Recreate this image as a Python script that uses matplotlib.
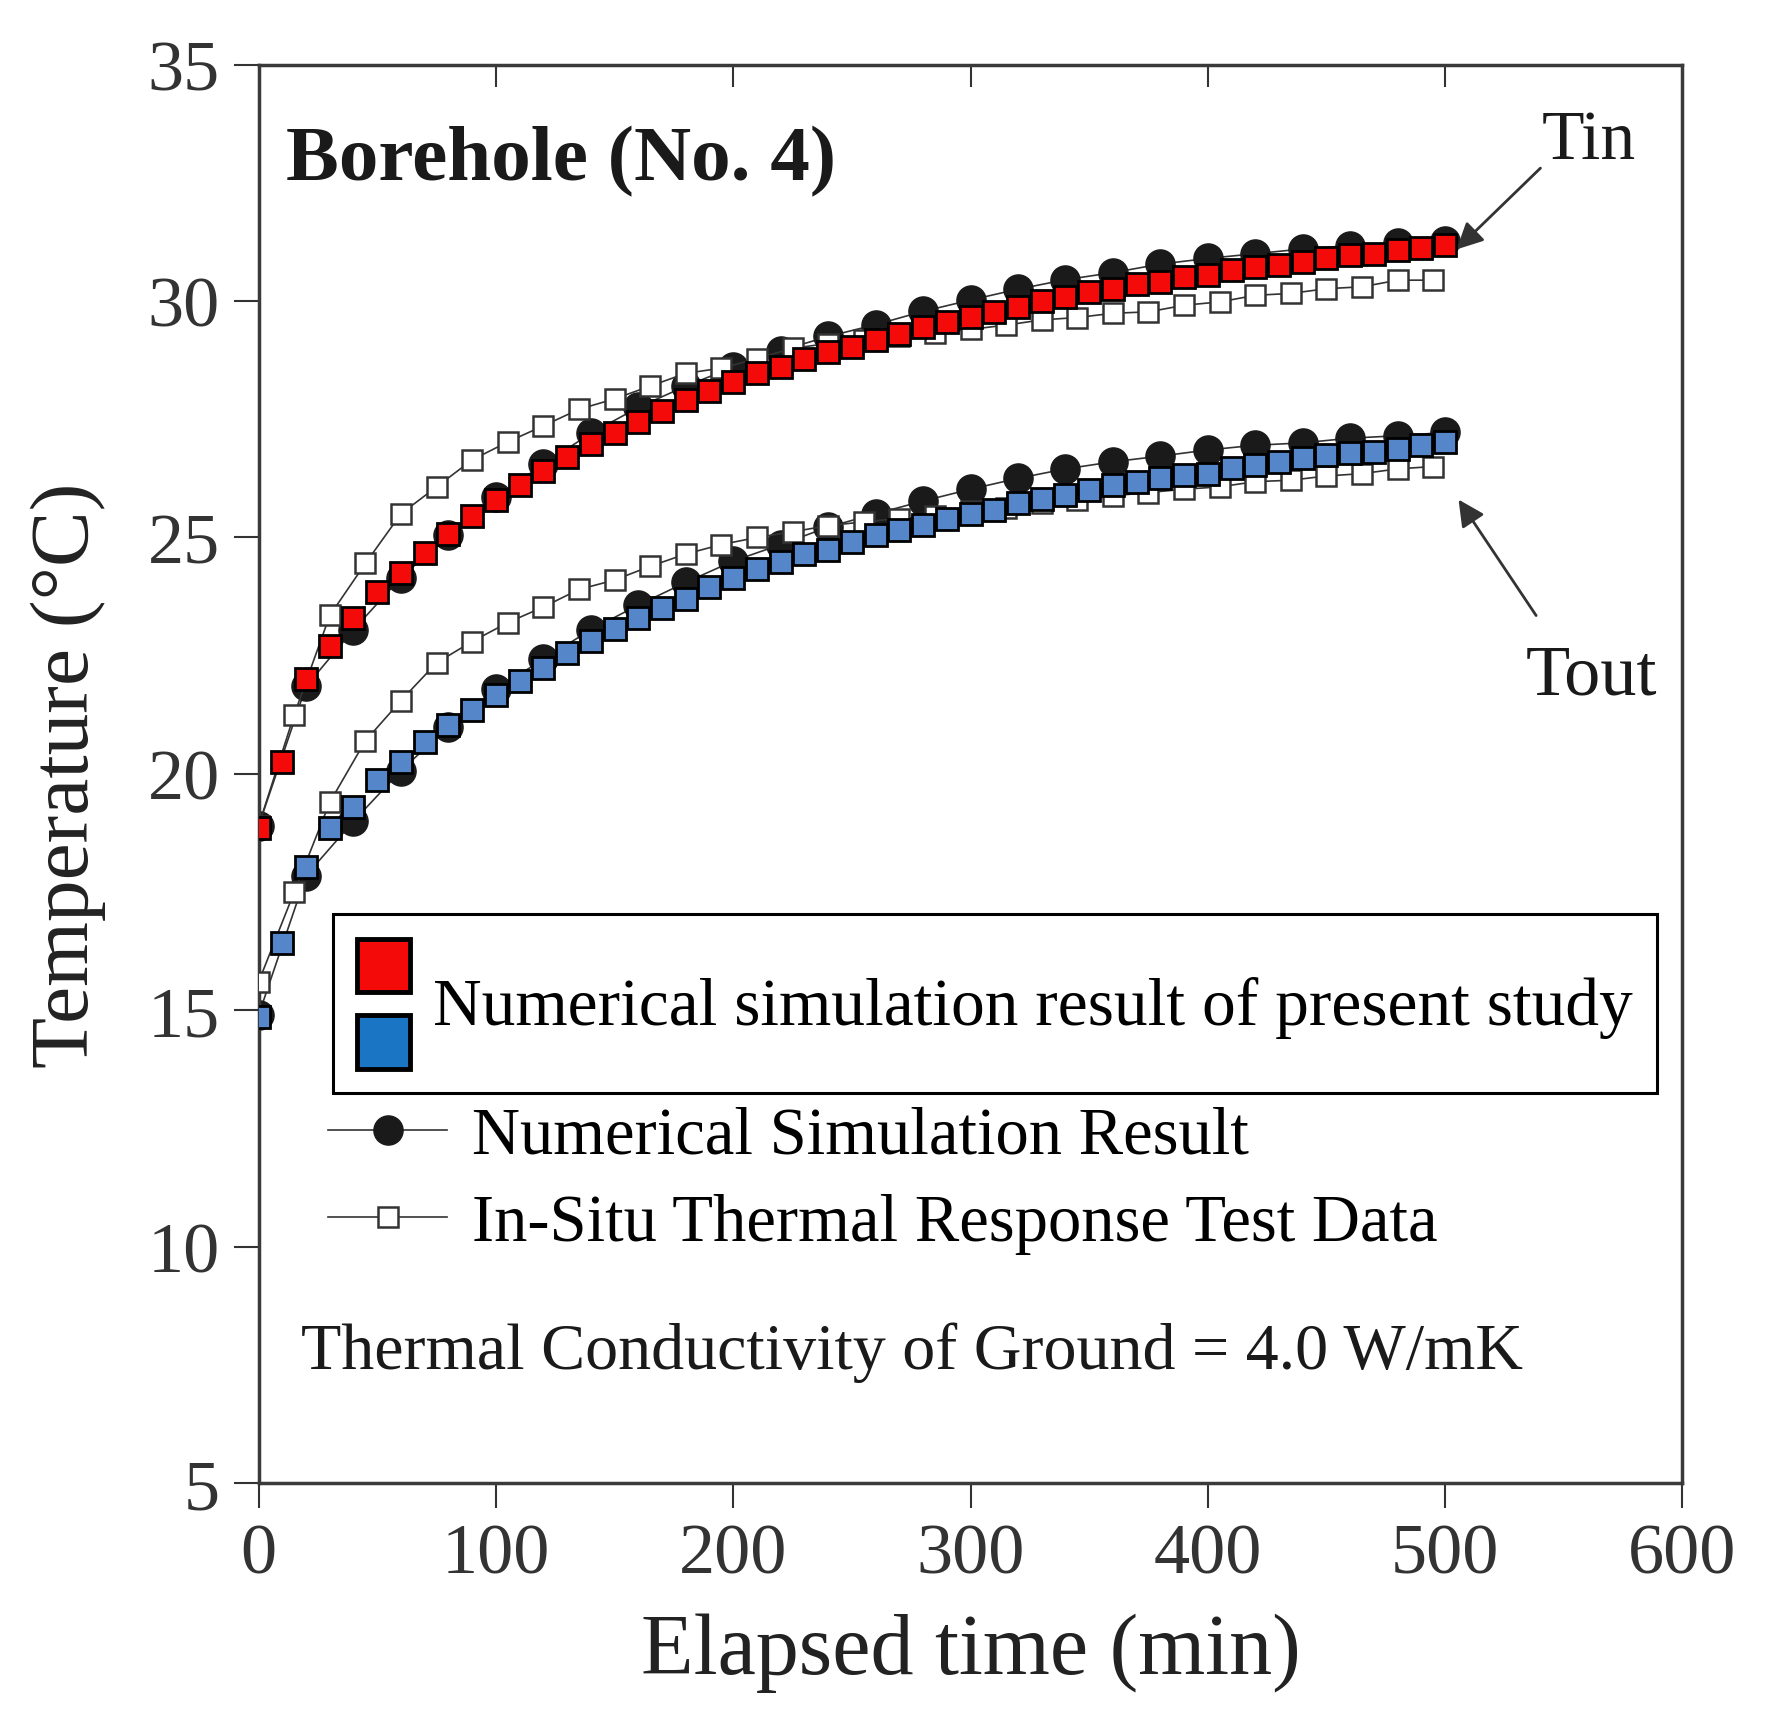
import matplotlib
matplotlib.use("Agg")
import matplotlib.pyplot as plt
from matplotlib.lines import Line2D
from matplotlib.patches import Rectangle
from matplotlib.legend_handler import HandlerBase

plt.rcParams["font.family"] = ["Liberation Serif", "DejaVu Serif"]

# elapsed time (min)
t_present = list(range(0, 501, 10))
t_sim = list(range(0, 501, 20))
t_test = list(range(0, 496, 15))

# numerical simulation result of present study
tin_present = [18.85, 20.25, 22.0, 22.7, 23.3, 23.85, 24.25, 24.68, 25.08, 25.45,
               25.8, 26.1, 26.4, 26.7, 26.97, 27.2, 27.45, 27.67, 27.9, 28.1,
               28.29, 28.47, 28.6, 28.78, 28.92, 29.03, 29.17, 29.31, 29.45, 29.56,
               29.66, 29.77, 29.88, 30.0, 30.09, 30.19, 30.26, 30.35, 30.41, 30.5,
               30.56, 30.65, 30.72, 30.77, 30.83, 30.91, 30.97, 31.0, 31.08, 31.12,
               31.18]
tout_present = [14.87, 16.42, 18.04, 18.85, 19.31, 19.88, 20.26, 20.67, 21.03, 21.36,
                21.67, 21.96, 22.25, 22.55, 22.82, 23.07, 23.3, 23.5, 23.7, 23.95,
                24.15, 24.34, 24.49, 24.66, 24.73, 24.91, 25.05, 25.15, 25.26, 25.4,
                25.5, 25.58, 25.72, 25.82, 25.89, 26.0, 26.1, 26.18, 26.25, 26.32,
                26.35, 26.46, 26.53, 26.6, 26.67, 26.74, 26.78, 26.8, 26.88, 26.95,
                27.02]

# numerical simulation result (reference)
tin_sim = [18.9, 21.85, 23.05, 24.15, 25.05, 25.85, 26.55, 27.2, 27.75, 28.2,
           28.6, 28.95, 29.25, 29.5, 29.78, 30.02, 30.25, 30.45, 30.6, 30.78,
           30.9, 31.0, 31.1, 31.17, 31.22, 31.27]
tout_sim = [14.9, 17.85, 19.0, 20.07, 21.0, 21.8, 22.42, 23.05, 23.57, 24.05,
            24.5, 24.85, 25.22, 25.5, 25.77, 26.02, 26.25, 26.45, 26.6, 26.72,
            26.85, 26.95, 27.0, 27.1, 27.15, 27.22]

# in-situ thermal response test data
tin_test = [18.9, 21.25, 23.35, 24.45, 25.5, 26.07, 26.64, 27.02, 27.36, 27.71,
            27.93, 28.2, 28.47, 28.58, 28.78, 29.0, 29.1, 29.18, 29.25, 29.32,
            29.4, 29.49, 29.6, 29.65, 29.74, 29.77, 29.91, 29.98, 30.12, 30.16,
            30.26, 30.3, 30.44, 30.44]
tout_test = [15.6, 17.5, 19.4, 20.7, 21.55, 22.35, 22.8, 23.2, 23.53, 23.9,
             24.1, 24.39, 24.65, 24.85, 25.0, 25.12, 25.25, 25.33, 25.4, 25.45,
             25.55, 25.63, 25.72, 25.8, 25.88, 25.95, 26.02, 26.07, 26.18, 26.21,
             26.3, 26.35, 26.45, 26.5]

red = "#f50a0a"
blue = "#5486c9"


class StackedSquares(HandlerBase):
    # two squares on top of each other sharing one label
    def create_artists(self, legend, orig_handle, xdescent, ydescent,
                       width, height, fontsize, trans):
        side = width
        gap = height - 2 * side
        x0, y0 = -xdescent, -ydescent
        top = Rectangle((x0, y0 + side + gap), side, side, facecolor=orig_handle[0],
                        edgecolor="black", lw=3.5, transform=trans)
        bot = Rectangle((x0, y0), side, side, facecolor=orig_handle[1],
                        edgecolor="black", lw=3.5, transform=trans)
        return [top, bot]


fig = plt.figure(figsize=(17.71, 17.24), dpi=100)
ax = fig.add_axes([0.146, 0.139, 0.804, 0.823])

line_kw = dict(color="#333333", lw=1.2)
ax.plot(t_sim, tin_sim, marker="o", ms=21, mfc="#1a1a1a", mec="#1a1a1a", zorder=2, **line_kw)
ax.plot(t_sim, tout_sim, marker="o", ms=21, mfc="#1a1a1a", mec="#1a1a1a", zorder=2, **line_kw)
ax.plot(t_test, tin_test, marker="s", ms=14.5, mfc="white", mec="#333333", mew=1.8, zorder=3, **line_kw)
ax.plot(t_test, tout_test, marker="s", ms=14.5, mfc="white", mec="#333333", mew=1.8, zorder=3, **line_kw)
ax.plot(t_present, tin_present, ls="none", marker="s", ms=15.5, mfc=red, mec="black", mew=2, zorder=4)
ax.plot(t_present, tout_present, ls="none", marker="s", ms=15.5, mfc=blue, mec="black", mew=2, zorder=4)

ax.set_xlim(0, 600)
ax.set_ylim(5, 35)
ax.set_xticks(range(0, 601, 100))
ax.set_yticks(range(5, 36, 5))
ax.tick_params(axis="both", direction="out", length=18, width=1.5, colors="#333333",
               labelsize=52, pad=10)
for s in ax.spines.values():
    s.set_linewidth(2.5)
    s.set_color("#3a3a3a")

top = ax.secondary_xaxis("top")
top.set_xticks(range(100, 501, 100))
top.tick_params(direction="in", length=16, width=1.5, colors="#333333", labeltop=False)
top.spines["top"].set_visible(False)

ax.set_xlabel("Elapsed time (min)", fontsize=62, color="#222222", labelpad=18)
ax.set_ylabel("Temperature (\u00b0C)", fontsize=60, color="#222222", labelpad=30)

ax.text(0.019, 0.932, "Borehole (No. 4)", transform=ax.transAxes, fontsize=57,
        fontweight="bold", color="#1a1a1a", va="center", ha="left")
ax.text(0.934, 0.946, "Tin", transform=ax.transAxes, fontsize=50, color="#1a1a1a",
        va="center", ha="center")
ax.text(0.936, 0.569, "Tout", transform=ax.transAxes, fontsize=52, color="#1a1a1a",
        va="center", ha="center")
ax.annotate("", xy=(504, 31.05), xytext=(541, 32.85),
            arrowprops=dict(arrowstyle="-|>", color="#333333", lw=2, mutation_scale=40))
ax.annotate("", xy=(505, 25.85), xytext=(539, 23.3),
            arrowprops=dict(arrowstyle="-|>", color="#333333", lw=2, mutation_scale=40))

# boxed legend for present study
leg1 = ax.legend([(red, "#1a75c4")], ["Numerical simulation result of present study"],
                 handler_map={tuple: StackedSquares()}, loc="upper left",
                 bbox_to_anchor=(0.052, 0.401), borderaxespad=0, fontsize=48.5,
                 handlelength=0.79, handleheight=2.59, handletextpad=0.34,
                 borderpad=0.36, fancybox=False, framealpha=1, edgecolor="black")
leg1.get_frame().set_linewidth(2.2)
ax.add_artist(leg1)

h_sim = Line2D([], [], marker="o", ms=21, mfc="#1a1a1a", mec="#1a1a1a", **line_kw)
h_test = Line2D([], [], marker="s", ms=14.5, mfc="white", mec="#333333", mew=1.8, **line_kw)
ax.legend([h_sim, h_test], ["Numerical Simulation Result", "In-Situ Thermal Response Test Data"],
          loc="upper left", bbox_to_anchor=(0.049, 0.266), borderaxespad=0, borderpad=0,
          fontsize=48, frameon=False, handlelength=1.78, handletextpad=0.37,
          labelspacing=0.39)

ax.text(0.0295, 0.093, "Thermal Conductivity of Ground = 4.0 W/mK", transform=ax.transAxes,
        fontsize=47.5, color="#1a1a1a", va="center", ha="left")

fig.savefig("out.png", dpi=100)
